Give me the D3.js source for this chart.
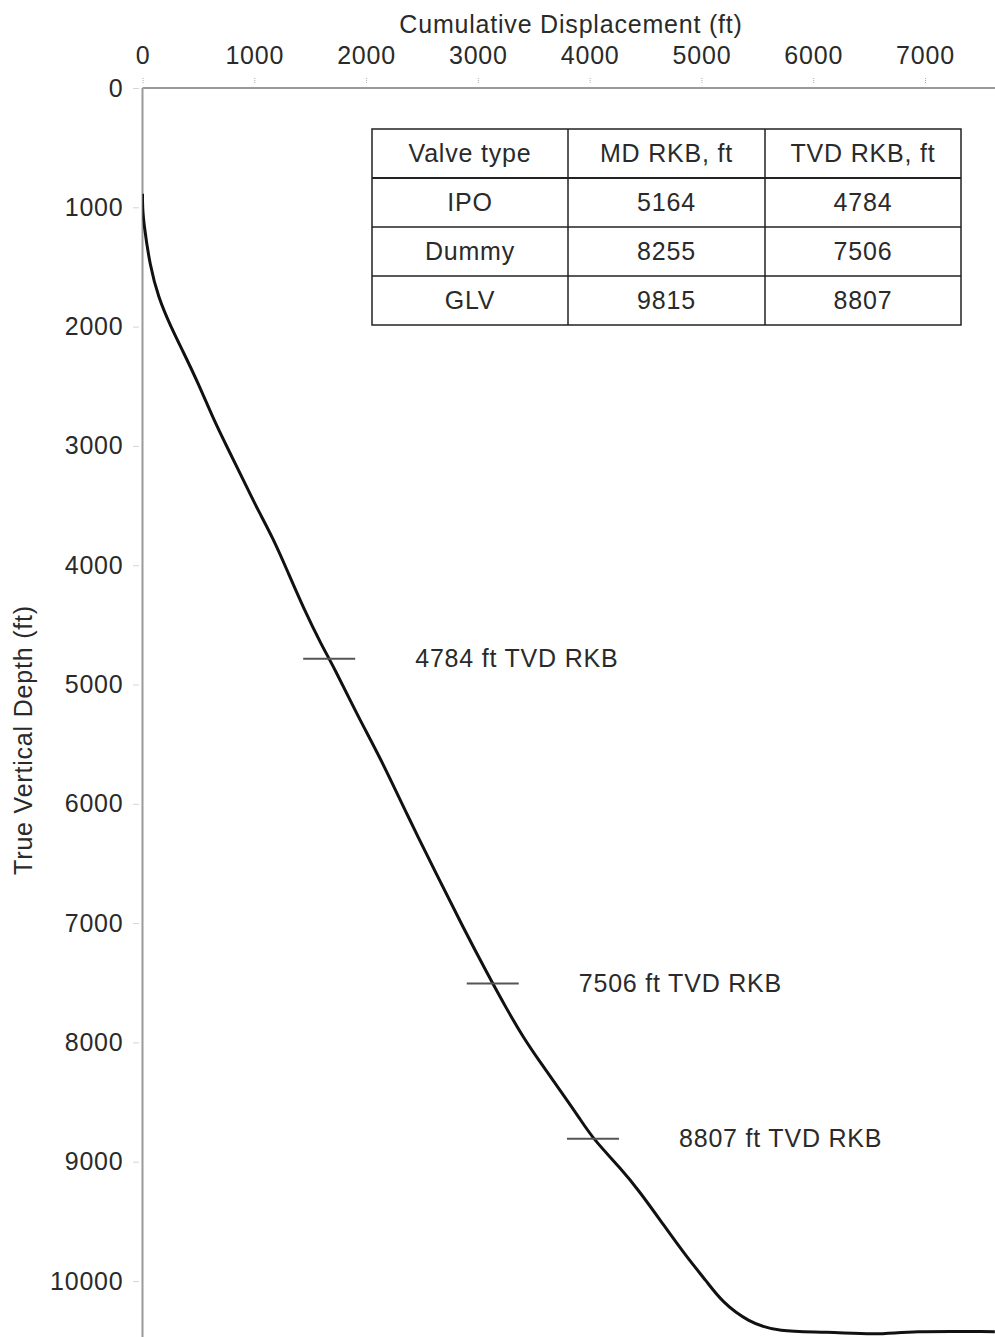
<!DOCTYPE html>
<html>
<head>
<meta charset="utf-8">
<script src="https://cdn.jsdelivr.net/npm/d3@7"></script>
<style>
  html, body { margin: 0; padding: 0; background: #fff; }
  svg { display: block; font-family: "Liberation Sans", Arial, sans-serif; }
  svg text { letter-spacing: 0.8px; }
</style>
</head>
<body>
<svg id="chart" width="995" height="1337"></svg>
<script>
// Well trajectory: cumulative horizontal displacement (ft) vs true vertical depth (ft)
const displacement = [0, 0, 13, 67, 141, 246, 365, 499, 630, 765, 902, 1021, 1170, 1304, 1438,
  1603, 1707, 1935, 2124, 2363, 2632, 2869, 3079, 3258, 3406, 3555, 3734, 3913, 4032, 4271,
  4450, 4658, 4868, 5047, 5181, 5419, 5687, 6120, 6567, 6865, 7625];
const trueVerticalDepth = [887, 1000, 1147, 1492, 1752, 1987, 2213, 2476, 2766, 3026, 3286, 3517,
  3777, 4065, 4355, 4673, 4845, 5281, 5608, 6084, 6595, 7038, 7413, 7720, 7958, 8163, 8399,
  8640, 8810, 9049, 9253, 9526, 9799, 10003, 10173, 10344, 10428, 10425, 10453, 10419, 10425];

// Gas-lift valve table
const tableHeader = ["Valve type", "MD RKB, ft", "TVD RKB, ft"];
const valveTypes = ["IPO", "Dummy", "GLV"];
const mdRKB = [5164, 8255, 9815];
const tvdRKB = [4784, 7506, 8807];

// Axis ticks
const xTicks = [0, 1000, 2000, 3000, 4000, 5000, 6000, 7000];
const yTicks = [0, 1000, 2000, 3000, 4000, 5000, 6000, 7000, 8000, 9000, 10000];

const svg = d3.select("#chart");
const W = 995, H = 1337;
const plotLeft = 142.5, plotTop = 88;
const textColor = "#2a2a2a";
const fontSize = 25;

const x = d3.scaleLinear().domain([0, 7000]).range([plotLeft, 925]);
const y = d3.scaleLinear().domain([0, 10000]).range([plotTop, 1281]);

// Clip region for the plot area (runs off the right and bottom edges)
svg.append("defs").append("clipPath").attr("id", "plotClip")
  .append("rect").attr("x", plotLeft).attr("y", plotTop).attr("width", W - plotLeft).attr("height", H - plotTop);

// Top (x) axis
const xAxis = d3.axisTop(x).tickValues(xTicks).tickSize(5).tickPadding(14).tickFormat(d3.format("d"));
const gx = svg.append("g").attr("transform", `translate(0,${plotTop - 5})`).call(xAxis);
gx.select(".domain").remove();
gx.selectAll(".tick line").attr("stroke", "#aaa").attr("stroke-dasharray", "1,1").attr("stroke-width", 1);
gx.selectAll(".tick text").attr("font-size", fontSize).attr("fill", textColor)
  .attr("font-family", "Liberation Sans, Arial, sans-serif");

// Left (y) axis
const yAxis = d3.axisLeft(y).tickValues(yTicks).tickSize(5).tickPadding(10).tickFormat(d3.format("d"));
const gy = svg.append("g").attr("transform", `translate(${plotLeft - 4},0)`).call(yAxis);
gy.select(".domain").remove();
gy.selectAll(".tick line").attr("stroke", "#aaa").attr("stroke-dasharray", "1,1").attr("stroke-width", 1);
gy.selectAll(".tick text").attr("font-size", fontSize).attr("fill", textColor)
  .attr("font-family", "Liberation Sans, Arial, sans-serif");

// Axis frame lines
svg.append("line").attr("x1", plotLeft).attr("x2", W).attr("y1", plotTop).attr("y2", plotTop)
  .attr("stroke", "#999").attr("stroke-width", 2);
svg.append("line").attr("x1", plotLeft).attr("x2", plotLeft).attr("y1", plotTop).attr("y2", H)
  .attr("stroke", "#999").attr("stroke-width", 2);

// Axis titles
svg.append("text").attr("x", 571).attr("y", 33).attr("text-anchor", "middle")
  .attr("font-size", fontSize).attr("fill", textColor).text("Cumulative Displacement (ft)");
svg.append("text").attr("transform", "translate(32,740) rotate(-90)").attr("text-anchor", "middle")
  .attr("font-size", fontSize).attr("fill", textColor).text("True Vertical Depth (ft)");

// Trajectory line (B-spline through the survey points smooths the reading noise)
const points = displacement.map((d, i) => [d, trueVerticalDepth[i]]);
const plot = svg.append("g").attr("clip-path", "url(#plotClip)");
plot.append("path").datum(points)
  .attr("fill", "none").attr("stroke", "#111").attr("stroke-width", 3)
  .attr("stroke-linejoin", "round")
  .attr("d", d3.line().curve(d3.curveBasis).x(d => x(d[0])).y(d => y(d[1])));

// Displacement of the well path at a given depth (along the monotonic build section)
function dispAtDepth(tvd) {
  const i = d3.bisectLeft(trueVerticalDepth, tvd);
  const t0 = trueVerticalDepth[i - 1], t1 = trueVerticalDepth[i];
  const d0 = displacement[i - 1], d1 = displacement[i];
  return d0 + (tvd - t0) / (t1 - t0) * (d1 - d0);
}

// Valve markers and labels
tvdRKB.forEach((tvd, i) => {
  const cx = x(dispAtDepth(tvd));
  const cy = y(tvd);
  plot.append("line").attr("x1", cx - 26).attr("x2", cx + 26).attr("y1", cy).attr("y2", cy)
    .attr("stroke", "#555").attr("stroke-width", 2);
  svg.append("text").attr("x", cx + 86).attr("y", cy).attr("dy", "0.35em")
    .attr("font-size", fontSize).attr("fill", textColor).text(`${tvd} ft TVD RKB`);
});

// Valve table
const tX = [372, 568, 765, 961];
const tY = [129, 178, 227, 276, 325];
const table = svg.append("g");
const rows = [tableHeader].concat(valveTypes.map((v, i) => [v, String(mdRKB[i]), String(tvdRKB[i])]));
table.append("rect").attr("x", tX[0]).attr("y", tY[0]).attr("width", tX[3] - tX[0]).attr("height", tY[4] - tY[0])
  .attr("fill", "#fff").attr("stroke", "#222").attr("stroke-width", 1.5);
[1, 2, 3].forEach(r => {
  table.append("line").attr("x1", tX[0]).attr("x2", tX[3]).attr("y1", tY[r]).attr("y2", tY[r])
    .attr("stroke", "#222").attr("stroke-width", r === 1 ? 2 : 1.5);
});
[1, 2].forEach(c => {
  table.append("line").attr("x1", tX[c]).attr("x2", tX[c]).attr("y1", tY[0]).attr("y2", tY[4])
    .attr("stroke", "#222").attr("stroke-width", 1.5);
});
rows.forEach((row, r) => {
  row.forEach((cell, c) => {
    table.append("text").attr("x", (tX[c] + tX[c + 1]) / 2).attr("y", (tY[r] + tY[r + 1]) / 2)
      .attr("dy", "0.35em").attr("text-anchor", "middle")
      .attr("font-size", fontSize).attr("fill", textColor).text(cell);
  });
});
</script>
</body>
</html>
